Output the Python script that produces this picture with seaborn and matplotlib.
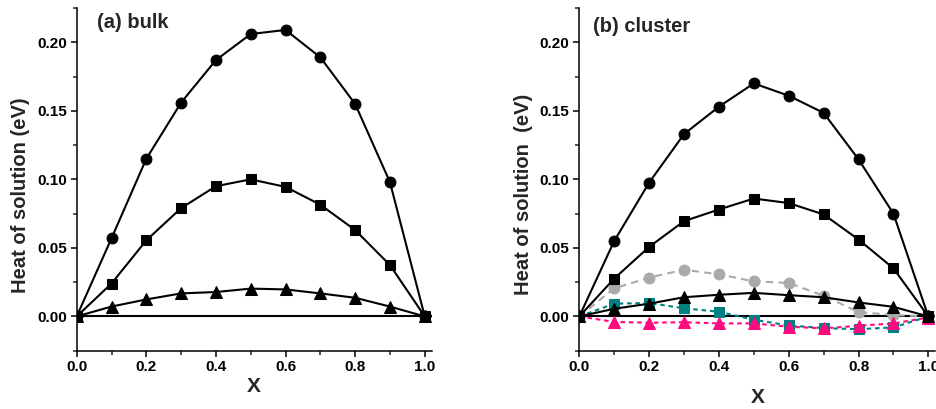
import numpy as np
import pandas as pd
import matplotlib
matplotlib.use("Agg")
import matplotlib.pyplot as plt
import seaborn as sns
from matplotlib.ticker import MultipleLocator

sns.set_style("ticks")
plt.rcParams['font.family'] = ['Liberation Sans', 'DejaVu Sans']
plt.rcParams['font.weight'] = 'bold'
plt.rcParams['axes.labelweight'] = 'bold'

x = [0.0, 0.1, 0.2, 0.3, 0.4, 0.5, 0.6, 0.7, 0.8, 0.9, 1.0]

# (a) bulk
bulk_circle = [0.0, 0.057, 0.115, 0.156, 0.187, 0.206, 0.209, 0.189, 0.155, 0.098, 0.0]
bulk_square = [0.0, 0.024, 0.0555, 0.079, 0.095, 0.100, 0.0945, 0.0815, 0.063, 0.0375, 0.0]
bulk_triangle = [0.0, 0.0072, 0.0124, 0.0168, 0.0178, 0.0203, 0.0197, 0.0168, 0.0136, 0.0072, 0.0]

# (b) cluster
cl_circle = [0.0, 0.055, 0.0976, 0.133, 0.153, 0.170, 0.161, 0.1485, 0.1146, 0.075, 0.0]
cl_square = [0.0, 0.0276, 0.0507, 0.0695, 0.078, 0.086, 0.0827, 0.0744, 0.0561, 0.0351, 0.0]
cl_triangle = [0.0, 0.0056, 0.0093, 0.0140, 0.0158, 0.0172, 0.0155, 0.0140, 0.0102, 0.0070, 0.0]
cl_gray = [0.0, 0.0205, 0.0283, 0.0341, 0.0307, 0.0256, 0.0244, 0.0151, 0.0032, 0.0010, 0.0]
cl_teal = [0.0, 0.0093, 0.0098, 0.0059, 0.0034, -0.0024, -0.0066, -0.0085, -0.0093, -0.0080, 0.0]
cl_pink = [0.0, -0.0040, -0.0046, -0.0042, -0.0051, -0.0051, -0.0075, -0.0087, -0.0068, -0.0051, -0.0008]

W, H = 936, 409
fig = plt.figure(figsize=(W / 100, H / 100), dpi=100)
ax1 = fig.add_axes([76.7 / W, 58.3 / H, 355.0 / W, 342.7 / H])
ax2 = fig.add_axes([579.3 / W, 58.3 / H, 356.0 / W, 342.7 / H])

def solid(ax, y, marker, ms):
    sns.lineplot(x=x, y=y, ax=ax, color='black', lw=1.5, marker=marker,
                 markersize=ms, markeredgecolor='black', markerfacecolor='black',
                 zorder=3)

def dashed(ax, y, marker, ms, color, dashes):
    sns.lineplot(x=x, y=y, ax=ax, color=color, lw=1.5, marker=marker,
                 markersize=ms, markeredgecolor=color, markerfacecolor=color,
                 zorder=2, linestyle=(0, dashes))

solid(ax1, bulk_circle, 'o', 7.8)
solid(ax1, bulk_square, 's', 7)
solid(ax1, bulk_triangle, '^', 8)

dashed(ax2, cl_gray, 'o', 7.8, '#aaaaaa', (3.5, 2.5))
dashed(ax2, cl_teal, 's', 7, '#008080', (2.2, 1.8))
dashed(ax2, cl_pink, '^', 8, '#ff0a7f', (2.2, 1.8))
solid(ax2, cl_circle, 'o', 7.8)
solid(ax2, cl_square, 's', 7)
solid(ax2, cl_triangle, '^', 8)

for ax, title, tx, ty, ylp, xlp, ly in [(ax1, '(a) bulk', 0.057, 0.959, 5, 2, 0.454),
                                         (ax2, '(b) cluster', 0.038, 0.947, 5, 10, 0.457)]:
    ax.axhline(0, color='black', lw=1.5, zorder=1)
    ax.set_xlim(0, 1.02)
    ax.set_ylim(-0.025, 0.225)
    ax.xaxis.set_major_locator(MultipleLocator(0.2))
    ax.xaxis.set_minor_locator(MultipleLocator(0.1))
    ax.yaxis.set_major_locator(MultipleLocator(0.05))
    ax.yaxis.set_minor_locator(MultipleLocator(0.025))
    ax.xaxis.set_major_formatter(matplotlib.ticker.FormatStrFormatter('%.1f'))
    ax.yaxis.set_major_formatter(matplotlib.ticker.FormatStrFormatter('%.2f'))
    ax.tick_params(which='major', direction='out', length=4, width=1.1,
                   labelsize=11, colors='black', pad=3)
    ax.tick_params(which='minor', direction='out', length=3, width=1.1)
    for lab in ax.get_xticklabels() + ax.get_yticklabels():
        lab.set_fontweight('bold')
    sns.despine(ax=ax, top=True, right=True)
    for s in ('left', 'bottom'):
        ax.spines[s].set_linewidth(1.1)
        ax.spines[s].set_color('black')
    ax.set_ylabel('Heat of solution (eV)' if ax is ax1 else 'Heat of solution  (eV)',
                  fontsize=14.5, fontweight='bold', labelpad=ylp)
    ax.yaxis.label.set_y(ly)
    ax.set_xlabel('X', fontsize=15, fontweight='bold', labelpad=xlp)
    ax.text(tx, ty, title, transform=ax.transAxes, fontsize=14.5,
            fontweight='bold', va='center', ha='left')
    ax.set_facecolor('white')

fig.savefig('out.png', dpi=100, facecolor='white')
